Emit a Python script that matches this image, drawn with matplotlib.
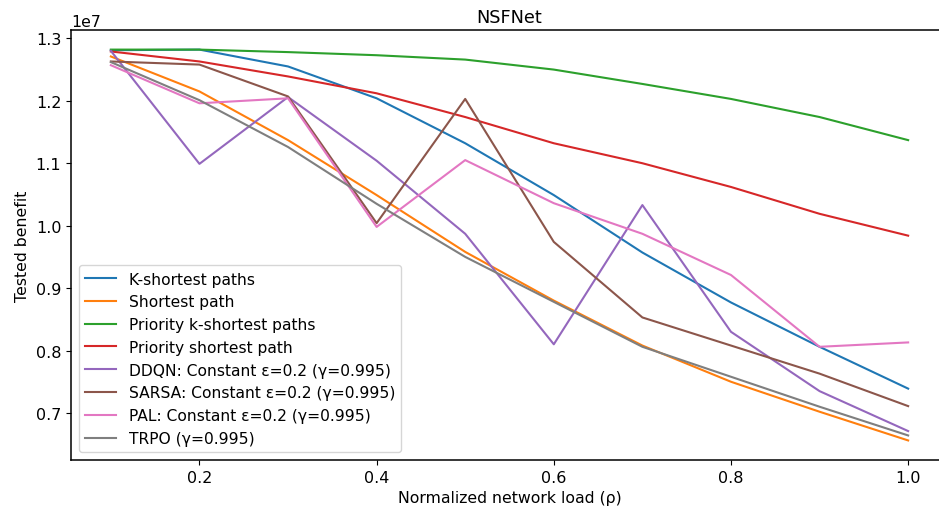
import matplotlib
matplotlib.use('Agg')
import matplotlib.pyplot as plt

# Network load values
load = [0.1, 0.2, 0.3, 0.4, 0.5, 0.6, 0.7, 0.8, 0.9, 1.0]

# Tested benefit per method (x 1e7)
k_shortest = [1.281, 1.282, 1.255, 1.204, 1.132, 1.049, 0.957, 0.877, 0.806, 0.739]
shortest = [1.271, 1.215, 1.137, 1.049, 0.958, 0.880, 0.808, 0.750, 0.702, 0.656]
priority_k_shortest = [1.282, 1.282, 1.278, 1.273, 1.266, 1.250, 1.227, 1.203, 1.174, 1.137]
priority_shortest = [1.279, 1.263, 1.239, 1.212, 1.174, 1.132, 1.100, 1.062, 1.019, 0.984]
ddqn = [1.280, 1.099, 1.206, 1.104, 0.987, 0.810, 1.033, 0.830, 0.735, 0.671]
sarsa = [1.263, 1.258, 1.207, 1.004, 1.203, 0.974, 0.853, 0.808, 0.763, 0.711]
pal = [1.257, 1.196, 1.204, 0.998, 1.105, 1.036, 0.987, 0.921, 0.806, 0.813]
trpo = [1.262, 1.201, 1.126, 1.035, 0.950, 0.878, 0.806, 0.758, 0.710, 0.664]

labels = ['K-shortest paths', 'Shortest path', 'Priority k-shortest paths',
          'Priority shortest path', 'DDQN: Constant ε=0.2 (γ=0.995)',
          'SARSA: Constant ε=0.2 (γ=0.995)', 'PAL: Constant ε=0.2 (γ=0.995)',
          'TRPO (γ=0.995)']
series = [k_shortest, shortest, priority_k_shortest, priority_shortest,
          ddqn, sarsa, pal, trpo]

plt.rcParams['font.size'] = 11.3
plt.rcParams['axes.linewidth'] = 1.1

fig = plt.figure(figsize=(9.39, 5.10), dpi=100)
# right edge of the axes falls just outside the picture, as in the original
ax = fig.add_axes([0.0756, 0.0961, 0.934, 0.843])

for values, label in zip(series, labels):
    ax.plot(load, [v * 1e7 for v in values], label=label)

ax.set_title('NSFNet', fontsize=12.8)
ax.set_xlabel('Normalized network load (ρ)', fontsize=11.3)
ax.set_ylabel('Tested benefit', fontsize=11.3)
ax.tick_params(labelsize=11.5)
ax.legend(loc='lower left', fontsize=11.2)

fig.savefig('out.png', dpi=100)
